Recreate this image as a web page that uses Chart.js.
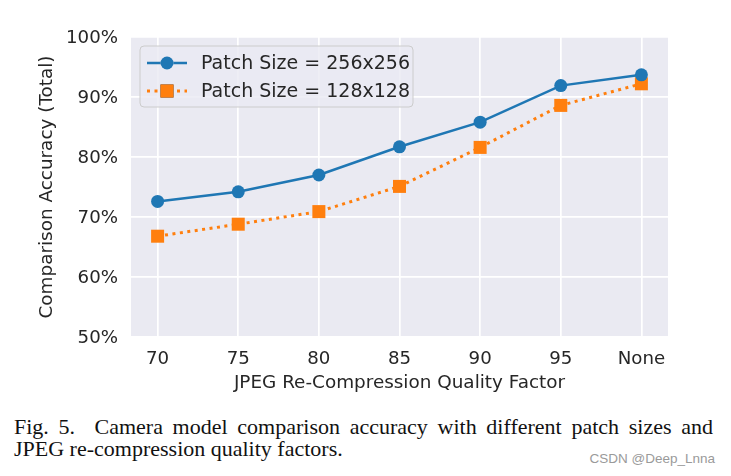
<!DOCTYPE html>
<html>
<head>
<meta charset="utf-8">
<script src="https://cdn.jsdelivr.net/npm/chart.js@4/dist/chart.umd.min.js"></script>
<style>
    body { margin: 0; background: #fff; }
    #wrap { position: relative; width: 731px; height: 476px; overflow: hidden; }
    #chart-box { position: absolute; left: 0; top: 0; width: 731px; height: 400px; }
    .caption { position: absolute; left: 14px; width: 699px; font-family: "Liberation Serif", serif; font-size: 22px; line-height: 24px; color: #111; white-space: nowrap; }
    #cap1 { top: 415px; text-align: justify; text-align-last: justify; }
    #cap2 { top: 437px; }
    #mark { position: absolute; right: 16px; top: 451px; font-family: "Liberation Sans", sans-serif; font-size: 13.5px; color: #9a9a9a; }
</style>
</head>
<body>
<div id="wrap">
    <div id="chart-box"><canvas id="myChart"></canvas></div>
    <div class="caption" id="cap1">Fig. 5.&nbsp; Camera model comparison accuracy with different patch sizes and</div>
    <div class="caption" id="cap2">JPEG re-compression quality factors.</div>
    <div id="mark">CSDN @Deep_Lnna</div>
</div>
<script>
let qualityLabels = ['70', '75', '80', '85', '90', '95', 'None'];
let acc256 = [72.6, 74.2, 77.0, 81.7, 85.8, 91.9, 93.7];
let acc128 = [66.8, 68.8, 70.9, 75.1, 81.6, 88.6, 92.2];
let yTicks = [50, 60, 70, 80, 90, 100];

const textColor = '#262626';
const fontName = '"DejaVu Sans", sans-serif';

// ================================================================== Plugins
const plotBackground = {
    id: 'plotBackground',
    beforeDraw(chart) {
        let a = chart.chartArea;
        let ctx = chart.ctx;
        ctx.save();
        ctx.fillStyle = '#EAEAF2';
        ctx.fillRect(a.left, a.top, a.right - a.left, a.bottom - a.top);
        ctx.restore();
    }
};

function roundBox(ctx, x, y, w, h, r) {
    ctx.beginPath();
    ctx.moveTo(x + r, y);
    ctx.arcTo(x + w, y, x + w, y + h, r);
    ctx.arcTo(x + w, y + h, x, y + h, r);
    ctx.arcTo(x, y + h, x, y, r);
    ctx.arcTo(x, y, x + w, y, r);
    ctx.closePath();
}

const boxLegend = {
    id: 'boxLegend',
    afterDatasetsDraw(chart) {
        let ctx = chart.ctx;
        let a = chart.chartArea;
        let x0 = a.left + 9, y0 = a.top + 9;
        ctx.save();
        roundBox(ctx, x0, y0, 273, 61, 4);
        ctx.fillStyle = 'rgba(234, 234, 242, 0.8)';
        ctx.fill();
        ctx.strokeStyle = '#cccccc';
        ctx.lineWidth = 1;
        ctx.stroke();

        chart.data.datasets.forEach((ds, k) => {
            let cy = y0 + 17 + k * 28;
            ctx.beginPath();
            ctx.setLineDash(ds.borderDash || []);
            ctx.lineWidth = ds.borderWidth;
            ctx.strokeStyle = ds.borderColor;
            ctx.moveTo(x0 + 7, cy);
            ctx.lineTo(x0 + 47, cy);
            ctx.stroke();
            ctx.setLineDash([]);
            Chart.helpers.drawPoint(ctx, {
                pointStyle: ds.pointStyle,
                radius: ds.pointRadius,
                borderWidth: 0
            }, x0 + 27, cy);
            ctx.fillStyle = ds.pointBackgroundColor;
            ctx.fill();
            ctx.fillStyle = textColor;
            ctx.font = '19px ' + fontName;
            ctx.textBaseline = 'middle';
            ctx.textAlign = 'left';
            ctx.fillText(ds.label, x0 + 61, cy + 1);
        });
        ctx.restore();
    }
};

// ================================================================== Chart
function setChart() {
    let ctx = document.getElementById('myChart');

    new Chart(ctx, {
        type: 'line',
        data: {
            datasets: [{
                label: 'Patch Size = 256x256',
                data: acc256.map((v, i) => ({ x: i, y: v })),
                borderColor: '#1f77b4',
                backgroundColor: '#1f77b4',
                pointBackgroundColor: '#1f77b4',
                borderWidth: 2.5,
                pointStyle: 'circle',
                pointRadius: 6.5,
                pointBorderWidth: 0,
                tension: 0
            }, {
                label: 'Patch Size = 128x128',
                data: acc128.map((v, i) => ({ x: i, y: v })),
                borderColor: '#ff7f0e',
                backgroundColor: '#ff7f0e',
                pointBackgroundColor: '#ff7f0e',
                borderWidth: 3,
                borderDash: [3, 4.5],
                pointStyle: 'rect',
                pointRadius: 9.2,
                pointBorderWidth: 0,
                tension: 0
            }]
        },
        options: {
            responsive: true,
            maintainAspectRatio: false,
            animation: false,
            events: [],
            layout: {
                padding: { top: 37, right: 63, left: 0, bottom: 0 }
            },
            plugins: {
                legend: { display: false },
                tooltip: { enabled: false }
            },
            scales: {
                x: {
                    type: 'linear',
                    min: -0.33,
                    max: 6.33,
                    afterBuildTicks: (scale) => {
                        scale.ticks = qualityLabels.map((l, i) => ({ value: i }));
                    },
                    afterFit: (scale) => { scale.height = 63; },
                    grid: { color: '#ffffff', lineWidth: 1.7, drawTicks: false },
                    border: { display: false },
                    ticks: {
                        padding: 11,
                        color: textColor,
                        font: { family: fontName, size: 18.2 },
                        callback: (v) => qualityLabels[v]
                    },
                    title: {
                        display: true,
                        text: 'JPEG Re-Compression Quality Factor',
                        color: textColor,
                        font: { family: fontName, size: 18.4 },
                        padding: { top: 0, bottom: 6 }
                    }
                },
                y: {
                    min: 50,
                    max: 100,
                    afterBuildTicks: (scale) => {
                        scale.ticks = yTicks.map((v) => ({ value: v }));
                    },
                    afterFit: (scale) => { scale.width = 131; },
                    grid: { color: '#ffffff', lineWidth: 1.7, drawTicks: false },
                    border: { display: false },
                    ticks: {
                        padding: 13,
                        labelOffset: 1.5,
                        color: textColor,
                        font: { family: fontName, size: 18.2 },
                        callback: (v) => v + '%'
                    },
                    title: {
                        display: true,
                        text: 'Comparison Accuracy (Total)',
                        color: textColor,
                        font: { family: fontName, size: 18.4 },
                        padding: { top: 36, bottom: 0 }
                    }
                }
            }
        },
        plugins: [plotBackground, boxLegend]
    });
}

setChart();
</script>
</body>
</html>
